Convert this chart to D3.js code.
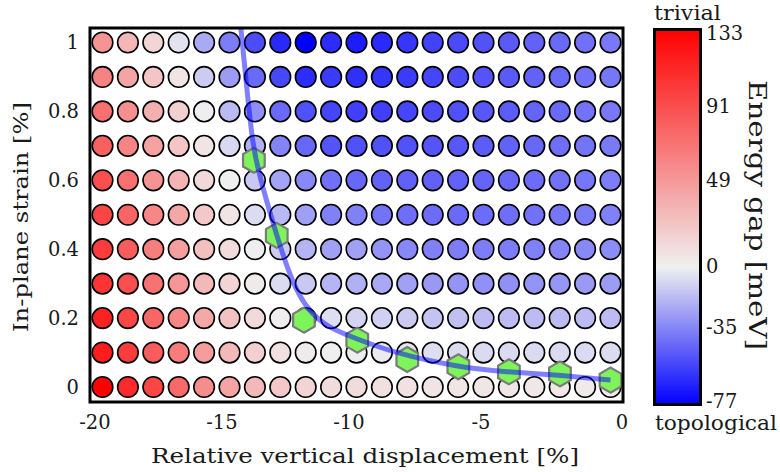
<!DOCTYPE html>
<html><head><meta charset="utf-8">
<script src="https://cdn.jsdelivr.net/npm/d3@7"></script>
<style>
body{margin:0;background:#fff}
svg{display:block}
</style>
</head><body>
<svg id="c" width="780" height="472"></svg>
<script>
// ---- data ----
const displacement = [-20,-19,-18,-17,-16,-15,-14,-13,-12,-11,-10,-9,-8,-7,-6,-5,-4,-3,-2,-1,0];
const strain = [0,0.1,0.2,0.3,0.4,0.5,0.6,0.7,0.8,0.9,1.0];
// energy gap (meV), one array per strain row, ordered by displacement
const gap_s00 = [133,110,94,74,55,42,31,22,15.5,11,11,9,7.8,6.6,5.5,5.5,5.5,4.4,4.4,3.3,3.3];
const gap_s01 = [117,100,82,64,46.5,31,17.7,9,3,0.5,-1,-2,-3.9,-5.8,-6.4,-7,-7,-7,-7,-7,-6.4];
const gap_s02 = [114,94,76.5,58,40,26,12,1,-2,-5.8,-9,-10.3,-12,-14,-15.4,-16.7,-16.7,-16.7,-16.7,-16.7,-16.7];
const gap_s03 = [104,89,70,50,31,15.5,3.3,-6.4,-12.8,-19,-20.5,-23,-25.7,-28,-29.5,-30.8,-30.8,-29.5,-28.9,-27.6,-27];
const gap_s04 = [100,82,63,45,26.6,11,-0.5,-12,-19,-25.7,-25.7,-29.5,-33.4,-36,-37,-37,-37,-36,-34.7,-33.4,-32];
const gap_s05 = [95,77.6,58.7,41,22,6.6,-6.4,-18,-26,-36,-36,-40,-41.7,-42.4,-43,-42.4,-41.7,-40.4,-39,-37.9,-36];
const gap_s06 = [89,71,51,33,13.3,0.5,-12.8,-24.4,-33.4,-41,-44,-45.6,-46,-46,-45.6,-45,-43.6,-42.4,-40.4,-39,-37];
const gap_s07 = [80,60,43,24,6.6,-7.7,-20.5,-34.7,-43.6,-50,-51,-51,-50.7,-50,-48.8,-47.5,-45.6,-43.6,-41.7,-39.8,-37.9];
const gap_s08 = [71,53,35.5,17.7,-0.5,-17,-31,-43,-51,-55,-56.5,-56.5,-55,-53,-51,-49,-47.5,-45,-43,-40,-38.5];
const gap_s09 = [61,42,24,6.6,-11.5,-27,-43,-54,-63,-58,-61.6,-60,-58,-55,-52.6,-50,-48,-45.6,-43,-41,-39];
const gap_s10 = [51,32,14.4,-4.5,-22.5,-37,-52.6,-64,-77,-63,-68,-63.5,-59.7,-55.8,-53.3,-50.7,-48,-45.6,-43,-41,-38.5];
const gapRows = [gap_s00,gap_s01,gap_s02,gap_s03,gap_s04,gap_s05,gap_s06,gap_s07,gap_s08,gap_s09,gap_s10];

// gap-closing points (green hexagons)
const closeX = [-14.04,-13.14,-12.07,-9.97,-8.0,-5.99,-4.0,-1.99,0];
const closeY = [0.658,0.44,0.194,0.136,0.080,0.059,0.044,0.038,0.020];
// fitted phase boundary (blue line)
const fitX = [-14.55,-14.32,-14.09,-13.80,-13.54,-13.14,-12.70,-12.30,-11.80,-11.10,-10.0,-8.56,-6.04,-4.08,-2.1,0];
const fitY = [1.04,0.87,0.70,0.61,0.54,0.44,0.34,0.27,0.215,0.172,0.140,0.100,0.058,0.043,0.035,0.02];

const xTickLabels = ["-20","-15","-10","-5","0"];
const xTickAt = [-20.3,-15.3,-10.3,-5.1,0.45];
const yTicks = [0,0.2,0.4,0.6,0.8,1];
const cbTicks = [133,91,49,0,-35,-77];
const gapMin = -77, gapMax = 133;

// ---- drawing ----
const svg = d3.select("#c");
const FONT = "'DejaVu Serif Condensed', 'DejaVu Serif', serif";
const P = {left:90, right:623, top:28, bottom:402};
const x = d3.scaleLinear().domain([-20,0]).range([102.5,610.5]);
const y = d3.scaleLinear().domain([0,1]).range([387,42.5]);
const color = d3.scaleLinear().domain([gapMin,0,gapMax]).range(["#0000ff","#f0f0f0","#ff0000"]);
const ink = "#1a1a1a";

// widen condensed serif to regular width
function widen(sel, len){
  sel.style("font-family",FONT).attr("fill",ink);
  sel.each(function(){
    const L = len || this.getComputedTextLength()*1.11;
    d3.select(this).attr("textLength",L).attr("lengthAdjust","spacingAndGlyphs");
  });
  return sel;
}

const defs = svg.append("defs");
defs.append("clipPath").attr("id","clip").append("rect")
  .attr("x",P.left).attr("y",P.top).attr("width",P.right-P.left).attr("height",P.bottom-P.top);

// circles
const cells = [];
strain.forEach((s,i)=>displacement.forEach((d,j)=>cells.push({d,s,v:gapRows[i][j]})));
svg.append("g").selectAll("circle").data(cells).join("circle")
  .attr("cx",c=>x(c.d)).attr("cy",c=>y(c.s)).attr("r",10.3)
  .attr("fill",c=>color(c.v)).attr("stroke","#000").attr("stroke-width",1.6);

// hexagons
const hexR = 12.5;
const hexPath = d3.line()(d3.range(6).map(k=>{const a=Math.PI/2+k*Math.PI/3;return [hexR*Math.cos(a),hexR*Math.sin(a)];}))+"Z";
svg.append("g").selectAll("path").data(closeX.map((d,i)=>({d,s:closeY[i]}))).join("path")
  .attr("d",hexPath).attr("transform",p=>`translate(${x(p.d)},${y(p.s)})`)
  .attr("fill","#7ff35a").attr("stroke","#7a7a7a").attr("stroke-width",2.2);

// fitted line
svg.append("path").attr("clip-path","url(#clip)")
  .datum(fitX.map((d,i)=>[d,fitY[i]]))
  .attr("d",d3.line().x(p=>x(p[0])).y(p=>y(p[1])).curve(d3.curveBasis))
  .attr("fill","none").attr("stroke","#0000ff").attr("stroke-opacity",0.5).attr("stroke-width",5);

// frame
svg.append("rect").attr("x",P.left).attr("y",P.top).attr("width",P.right-P.left).attr("height",P.bottom-P.top)
  .attr("fill","none").attr("stroke","#000").attr("stroke-width",3);

// ticks
widen(svg.append("g").selectAll("text").data(xTickLabels).join("text")
  .attr("x",(t,i)=>x(xTickAt[i])).attr("y",429).attr("text-anchor","middle")
  .attr("font-size",19.5).text(t=>t));
widen(svg.append("g").selectAll("text").data(yTicks).join("text")
  .attr("x",79).attr("y",t=>y(t)).attr("dy","0.35em").attr("text-anchor","end")
  .attr("font-size",19.5).text(t=>String(t)));

// axis labels
widen(svg.append("text").attr("x",365).attr("y",463).attr("text-anchor","middle").attr("font-size",21)
  .text("Relative vertical displacement [%]"), 428);
widen(svg.append("text").attr("transform","translate(28,217) rotate(-90)").attr("text-anchor","middle").attr("font-size",21)
  .text("In-plane strain [%]"), 230);

// colorbar
const cb = {x:654.5, y:29.5, w:46, h:375};
const cbY = d3.scaleLinear().domain([gapMin,gapMax]).range([401,33]);
const grad = defs.append("linearGradient").attr("id","cbg").attr("x1",0).attr("y1",1).attr("x2",0).attr("y2",0);
[gapMin,0,gapMax].forEach(v=>grad.append("stop").attr("offset",(v-gapMin)/(gapMax-gapMin)).attr("stop-color",color(v)));
svg.append("rect").attr("x",cb.x).attr("y",cb.y).attr("width",cb.w).attr("height",cb.h)
  .attr("fill","url(#cbg)").attr("stroke","#000").attr("stroke-width",3);
widen(svg.append("g").selectAll("text").data(cbTicks).join("text")
  .attr("x",706).attr("y",v=>cbY(v)).attr("dy","0.35em").attr("font-size",19.5).text(v=>String(v)));
widen(svg.append("text").attr("x",654).attr("y",20).attr("font-size",21).text("trivial"), 67);
widen(svg.append("text").attr("x",655).attr("y",430).attr("font-size",21).text("topological"), 122);
widen(svg.append("text").attr("transform","translate(749,215) rotate(90)").attr("text-anchor","middle").attr("font-size",25)
  .text("Energy gap [meV]"), 270);
</script>
</body></html>
